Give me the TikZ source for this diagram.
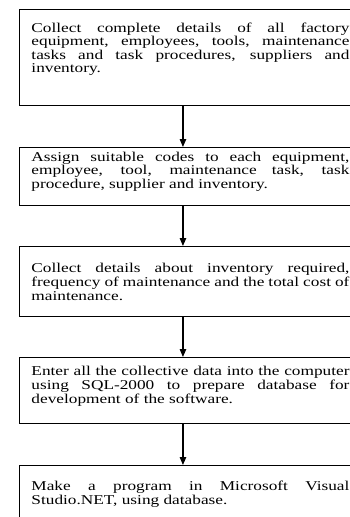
\documentclass[tikz,border=0pt]{standalone}
\usepackage{fontspec}
\setmainfont[FakeStretch=1.28]{Liberation Serif}
\usetikzlibrary{arrows.meta}

% box and arrow looks
\tikzset{
  stepbox/.style={draw, line width=0.9pt, anchor=north west,
    inner xsep=12pt, inner ysep=0pt,
    font={\fontsize{13.5pt}{13.5pt}\selectfont}},
  flowarrow/.style={line width=1.1pt, -{Triangle[length=8pt,width=6.5pt]}}
}
% #1 space above text, #2 box height, #3 text
\newcommand{\steptext}[3]{\parbox[t][#2][t]{318pt}{\vspace*{#1}\strut #3}}

\begin{document}
\begin{tikzpicture}[x=1pt,y=-1pt]
    \useasboundingbox (0,0) rectangle (350,517);

    % Draw the steps
    \node[stepbox] (collect) at (19,9) {\steptext{13.5pt}{96pt}{Collect complete details of all factory\linebreak
      equipment, employees, tools, maintenance\linebreak
      tasks and task procedures, suppliers and\linebreak
      inventory.}};
    \node[stepbox] (assign) at (19,147) {\steptext{4.5pt}{58pt}{Assign suitable codes to each equipment,\linebreak
      employee, tool, maintenance task, task\linebreak
      procedure, supplier and inventory.}};
    \node[stepbox] (details) at (19,246) {\steptext{16.5pt}{70pt}{Collect details about inventory required,\linebreak
      frequency of maintenance and the total cost of\linebreak
      maintenance.}};
    \node[stepbox] (enter) at (19,357) {\steptext{8.5pt}{66pt}{Enter all the collective data into the computer\linebreak
      using SQL-2000 to prepare database for\linebreak
      development of the software.}};
    \node[stepbox] (program) at (19,465) {\steptext{16pt}{72pt}{Make a program in Microsoft Visual\linebreak
      Studio.NET, using database.}};

    % Draw the arrows between the steps
    \draw[flowarrow] ([xshift=-7.5pt]collect.south) -- ([xshift=-7.5pt]assign.north);
    \draw[flowarrow] ([xshift=-7.5pt]assign.south) -- ([xshift=-7.5pt]details.north);
    \draw[flowarrow] ([xshift=-7.5pt]details.south) -- ([xshift=-7.5pt]enter.north);
    \draw[flowarrow] ([xshift=-7.5pt]enter.south) -- ([xshift=-7.5pt]program.north);

\end{tikzpicture}
\end{document}
